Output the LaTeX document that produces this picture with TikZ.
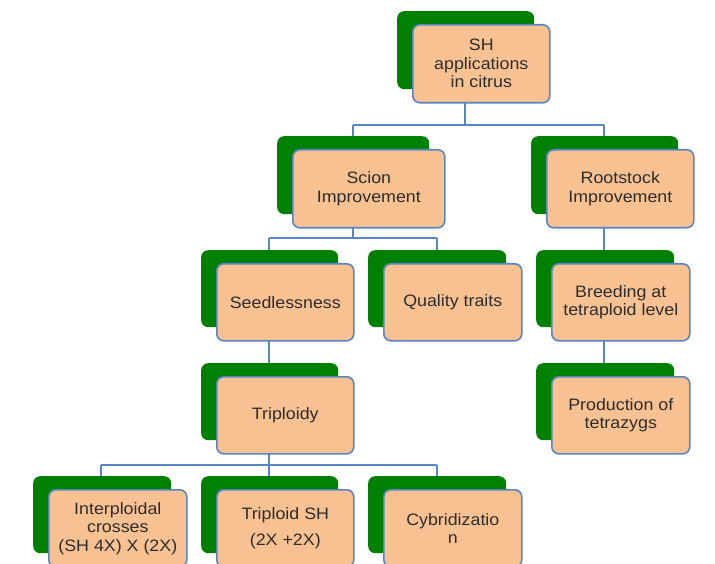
\documentclass[tikz,border=0pt]{standalone}
\usepackage{fontspec}
\setmainfont[FakeStretch=1.08]{Liberation Sans}
\definecolor{shgreen}{RGB}{0,128,0}
\definecolor{shfill}{RGB}{248,193,146}
\definecolor{shblue}{RGB}{88,134,196}
\definecolor{shtext}{RGB}{45,45,45}
\tikzset{
  card/.style={draw=shblue, line width=1.6pt, fill=shfill, rounded corners=7pt,
    anchor=north west, inner sep=0pt, align=center, text=shtext,
    font=\fontsize{16.5}{18.5}\selectfont},
  shade/.style={fill=shgreen, draw=none, rounded corners=7pt, anchor=north west, inner sep=0pt},
  link/.style={draw=shblue, line width=1.6pt}
}
\newcommand\cardpair[6]{%
  \node[shade, minimum width=#4pt, minimum height=#5pt] (#1-s) at (#2-15,#3-13) {};
  \node[card, minimum width=#4pt, minimum height=#5pt] (#1) at (#2,#3) {#6};
}
\begin{document}
\begin{tikzpicture}[x=1pt,y=-1pt]
\useasboundingbox (0,0) rectangle (715,564);
% connectors (behind)
\coordinate (b1) at (465,125);
\coordinate (b2) at (353,238);
\coordinate (b3) at (269,465);
\draw[link] (465,101) -- (b1);
\draw[link] (353,125) -- (604,125);
\draw[link] (353,125) -- (353,150);
\draw[link] (604,125) -- (604,150);
\draw[link] (353,226) -- (b2);
\draw[link] (269,238) -- (437,238);
\draw[link] (269,238) -- (269,264);
\draw[link] (437,238) -- (437,264);
\draw[link] (269,339) -- (269,377);
\draw[link] (269,452) -- (b3);
\draw[link] (101,465) -- (437,465);
\draw[link] (101,465) -- (101,490);
\draw[link] (437,465) -- (437,490);
\draw[link] (269,465) -- (269,490);
\draw[link] (604,226) -- (604,264);
\draw[link] (604,339) -- (604,377);
% boxes
\cardpair{top}{412}{24}{137}{78}{SH\\applications\\in citrus}
\cardpair{scion}{292}{149}{152}{78}{Scion\\Improvement}
\cardpair{root}{546}{149}{147}{78}{Rootstock\\Improvement}
\cardpair{seed}{216}{263}{137}{77}{Seedlessness}
\cardpair{qual}{383}{263}{138}{77}{Quality traits}
\cardpair{breed}{551}{263}{138}{77}{Breeding at\\tetraploid level}
\cardpair{trip}{216}{376}{137}{77}{Triploidy}
\cardpair{prod}{551}{376}{138}{77}{Production of\\tetrazygs}
\cardpair{inter}{48}{489}{138}{77}{Interploidal\\crosses\\(SH 4X) X (2X)}
\cardpair{tsh}{216}{489}{137}{77}{Triploid SH\\[7pt](2X +2X)}
\cardpair{cyb}{383}{489}{138}{77}{Cybridizatio\\n}
\end{tikzpicture}
\end{document}
